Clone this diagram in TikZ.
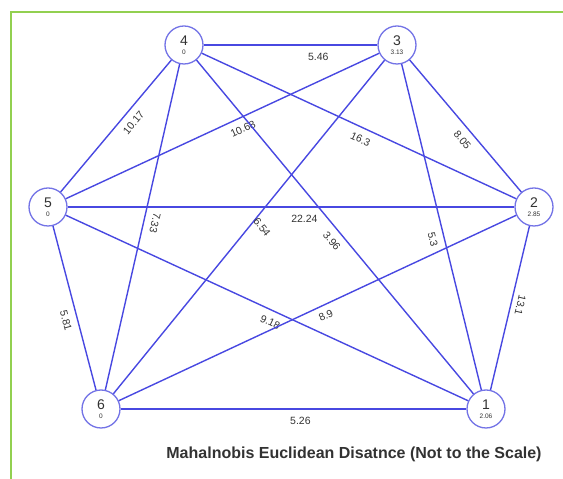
\documentclass[tikz,border=0pt]{standalone}
\usepackage{fontspec}
\setmainfont{Liberation Sans}
\usetikzlibrary{positioning}
\definecolor{edgeblue}{RGB}{72,72,225}
\definecolor{ringblue}{RGB}{115,115,230}
\definecolor{framegreen}{RGB}{146,208,80}
\definecolor{txtgray}{RGB}{50,50,50}
\newcommand{\vlab}[2]{{\fontsize{14}{12}\selectfont #1}\\[-3pt]{\fontsize{6.5}{6}\selectfont #2}}
\tikzset{
  vnode/.style={circle, draw=ringblue, line width=1.3pt, fill=white, minimum size=38pt,
      inner sep=0pt, align=center, text=txtgray},
  eline/.style={edgeblue, line width=1.4pt},
  elab/.style={font=\fontsize{10.5}{10}\selectfont, text=txtgray, inner sep=1pt},
  frameln/.style={framegreen, line width=2pt},
}
\begin{document}
\begin{tikzpicture}[x=1pt, y=1pt]
  \useasboundingbox (0,0) rectangle (563,479);
  \draw[frameln] (11,0) -- (11,467) -- (563,467);
  % vertices
  \node[vnode] (n4) at (184,434) {\vlab{4}{0}};
  \node[vnode] (n3) at (397,434) {\vlab{3}{3.13}};
  \node[vnode] (n5) at (48,272) {\vlab{5}{0}};
  \node[vnode] (n2) at (534,272) {\vlab{2}{2.85}};
  \node[vnode] (n6) at (101,70) {\vlab{6}{0}};
  \node[vnode] (n1) at (486,70) {\vlab{1}{2.06}};
  % distances
  \draw[eline] (n4) -- node[elab, sloped, below=6pt, pos=0.66] {5.46} (n3);
  \draw[eline] (n5) -- node[elab, sloped, below=6pt, pos=0.58] {10.17} (n4);
  \draw[eline] (n5) -- node[elab, sloped, below=6pt, pos=0.55] {10.68} (n3);
  \draw[eline] (n4) -- node[elab, sloped, below=6pt, pos=0.52] {16.3} (n2);
  \draw[eline] (n3) -- node[elab, sloped, below=6pt, pos=0.55] {8.05} (n2);
  \draw[eline] (n5) -- node[elab, sloped, below=6pt, pos=0.53] {22.24} (n2);
  \draw[eline] (n4) -- node[elab, sloped, allow upside down, above=6pt, pos=0.48] {7.33} (n6);
  \draw[eline] (n6) -- node[elab, xshift=13pt, rotate=-52, pos=0.5] {6.54} (n3);
  \draw[eline] (n4) -- node[elab, sloped, below=6pt, pos=0.52] {3.96} (n1);
  \draw[eline] (n3) -- node[elab, sloped, below=6pt, pos=0.53] {5.3} (n1);
  \draw[eline] (n5) -- node[elab, sloped, below=6pt, pos=0.56] {5.81} (n6);
  \draw[eline] (n5) -- node[elab, sloped, below=6pt, pos=0.52] {9.18} (n1);
  \draw[eline] (n6) -- node[elab, sloped, below=5pt, pos=0.51] {8.9} (n2);
  \draw[eline] (n2) -- node[elab, sloped, allow upside down, above=4pt, pos=0.47] {13.1} (n1);
  \draw[eline] (n6) -- node[elab, sloped, below=6pt, pos=0.52] {5.26} (n1);
  \node[font=\bfseries\fontsize{16}{17}\selectfont, text=txtgray] (title) at (354,25)
    {Mahalnobis Euclidean Disatnce (Not to the Scale)};
\end{tikzpicture}
\end{document}
